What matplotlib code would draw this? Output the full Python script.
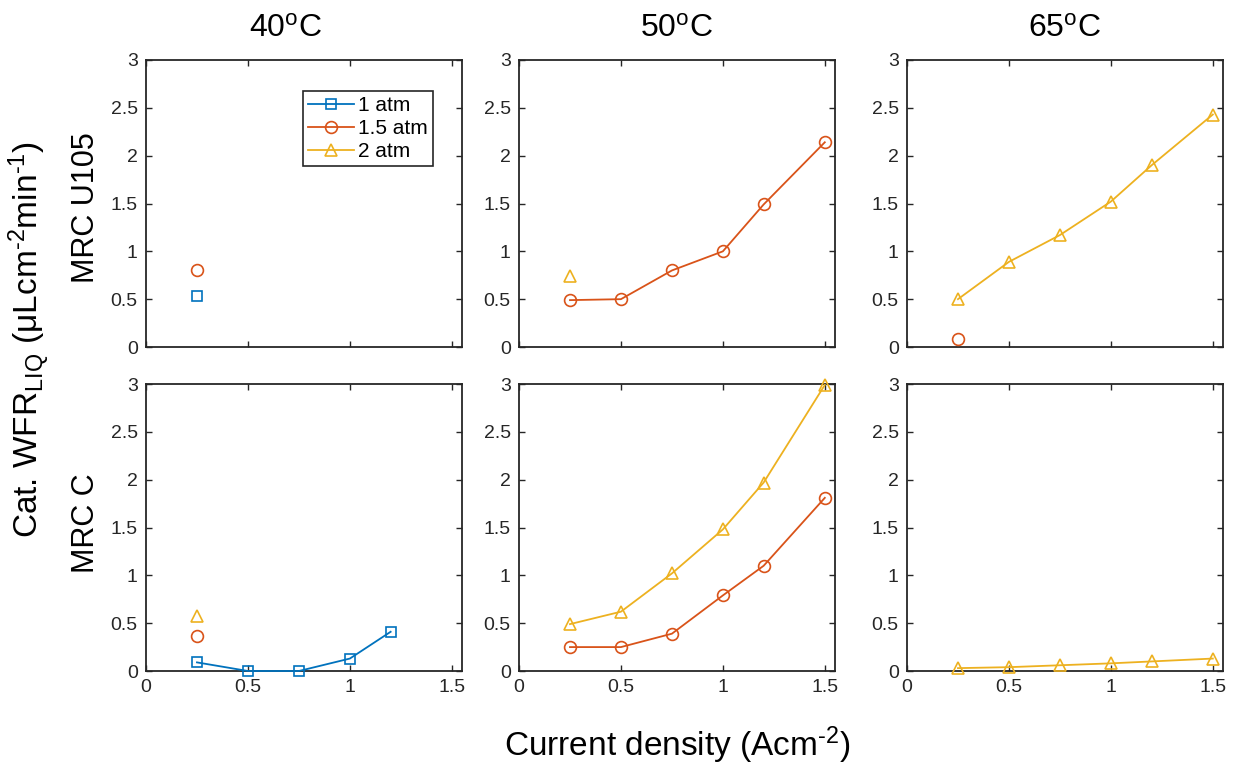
import matplotlib
matplotlib.use("Agg")
import matplotlib.pyplot as plt

plt.rcParams['font.family'] = ['Liberation Sans', 'DejaVu Sans']
plt.rcParams['mathtext.fontset'] = 'custom'
plt.rcParams['mathtext.rm'] = 'Liberation Sans'
plt.rcParams['mathtext.it'] = 'Liberation Sans'

# ---------------- data ----------------
temps = ["40", "50", "65"]
rows = ["MRC U105", "MRC C"]
series_labels = ["1 atm", "1.5 atm", "2 atm"]
colors = ["#0072BD", "#D95319", "#EDB120"]
markers = ["s", "o", "^"]

x_full = [0.25, 0.5, 0.75, 1.0, 1.2, 1.5]
x_single = [0.25]
x_40c = [0.25, 0.5, 0.75, 1.0, 1.2]

# MRC U105
u105_40_1atm = [0.53]
u105_40_15atm = [0.81]
u105_50_15atm = [0.49, 0.50, 0.80, 1.00, 1.49, 2.14]
u105_50_2atm = [0.74]
u105_65_15atm = [0.08]
u105_65_2atm = [0.50, 0.89, 1.17, 1.52, 1.90, 2.43]

# MRC C
c_40_1atm = [0.09, 0.00, 0.00, 0.13, 0.41]
c_40_15atm = [0.37]
c_40_2atm = [0.58]
c_50_15atm = [0.25, 0.25, 0.39, 0.79, 1.10, 1.81]
c_50_2atm = [0.49, 0.62, 1.02, 1.48, 1.97, 2.99]
c_65_2atm = [0.03, 0.04, 0.06, 0.08, 0.10, 0.13]

xticks = [0, 0.5, 1, 1.5]
xticklabels = ["0", "0.5", "1", "1.5"]
yticks = [0, 0.5, 1, 1.5, 2, 2.5, 3]
yticklabels = ["0", "0.5", "1", "1.5", "2", "2.5", "3"]

# panel contents: (row, col) -> list of (series index, x, y)
panels = {
    (0, 0): [(0, x_single, u105_40_1atm), (1, x_single, u105_40_15atm)],
    (0, 1): [(1, x_full, u105_50_15atm), (2, x_single, u105_50_2atm)],
    (0, 2): [(2, x_full, u105_65_2atm), (1, x_single, u105_65_15atm)],
    (1, 0): [(0, x_40c, c_40_1atm), (1, x_single, c_40_15atm), (2, x_single, c_40_2atm)],
    (1, 1): [(2, x_full, c_50_2atm), (1, x_full, c_50_15atm)],
    (1, 2): [(2, x_full, c_65_2atm)],
}

# ---------------- figure ----------------
W, H = 1233, 767
fig = plt.figure(figsize=(W / 100, H / 100), dpi=100)

col_left = [146, 519, 907]
col_w = 316
row_top = [60, 384]
row_h = 287

ink = "#262626"
msize = {"s": 7, "o": 8.5, "^": 9}

axes = {}
for r in range(2):
    for c in range(3):
        l = col_left[c] / W
        b = 1 - (row_top[r] + row_h) / H
        ax = fig.add_axes([l, b, col_w / W, row_h / H])
        axes[(r, c)] = ax
        for (si, xs, ys) in panels[(r, c)]:
            ax.plot(xs, ys, color=colors[si], marker=markers[si],
                    markersize=msize[markers[si]], markerfacecolor='none',
                    markeredgewidth=1.2, linewidth=1.3, clip_on=False,
                    label=series_labels[si], zorder=3)
        ax.set_xlim(0, 1.55)
        ax.set_ylim(0, 3)
        ax.set_xticks(xticks)
        ax.set_yticks(yticks)
        ax.set_yticklabels(yticklabels)
        if r == 1:
            ax.set_xticklabels(xticklabels)
        else:
            ax.set_xticklabels([])
        ax.tick_params(direction='in', top=True, right=True, length=4,
                       width=1.0, color=ink, labelsize=14, labelcolor=ink, pad=6)
        for s in ax.spines.values():
            s.set_color(ink)
            s.set_linewidth(1.3)

# legend in top-left panel
ax0 = axes[(0, 0)]
handles = []
for si in range(3):
    h, = ax0.plot([], [], color=colors[si], marker=markers[si],
                  markersize=msize[markers[si]], markerfacecolor='none',
                  markeredgewidth=1.2, linewidth=1.3)
    handles.append(h)
leg = ax0.legend(handles, series_labels, loc='upper right',
                 bbox_to_anchor=(0.908, 0.893), fontsize=15,
                 fancybox=False, framealpha=1, edgecolor=ink,
                 borderpad=0.25, labelspacing=0.2, handlelength=2.2,
                 handletextpad=0.2, borderaxespad=0)
leg.get_frame().set_linewidth(1.2)

hy = "\u2010"

# column titles
title_x = [286, 677, 1065]
for c in range(3):
    fig.text(title_x[c] / W, 1 - 29 / H, temps[c] + "$^{\\mathrm{o}}$C",
             ha='center', va='center', fontsize=23, color='black')

# row labels
fig.text(86 / W, 1 - 208 / H, rows[0], rotation=90, ha='center', va='center',
         fontsize=22, color='black')
fig.text(86 / W, 1 - 523 / H, rows[1], rotation=90, ha='center', va='center',
         fontsize=22, color='black')

# global y label
fig.text(29 / W, 1 - 340 / H,
         "Cat. WFR$_{\\mathrm{LIQ}}$ (\u03bcLcm$^{\\mathrm{" + hy + "2}}$min$^{\\mathrm{" + hy + "1}}$)",
         rotation=90, ha='center', va='center', fontsize=24, color='black')

# global x label
fig.text(677 / W, 1 - 745 / H, "Current density (Acm$^{\\mathrm{" + hy + "2}}$)",
         ha='center', va='center', fontsize=24, color='black')

fig.savefig("out.png", dpi=100, facecolor='white')
